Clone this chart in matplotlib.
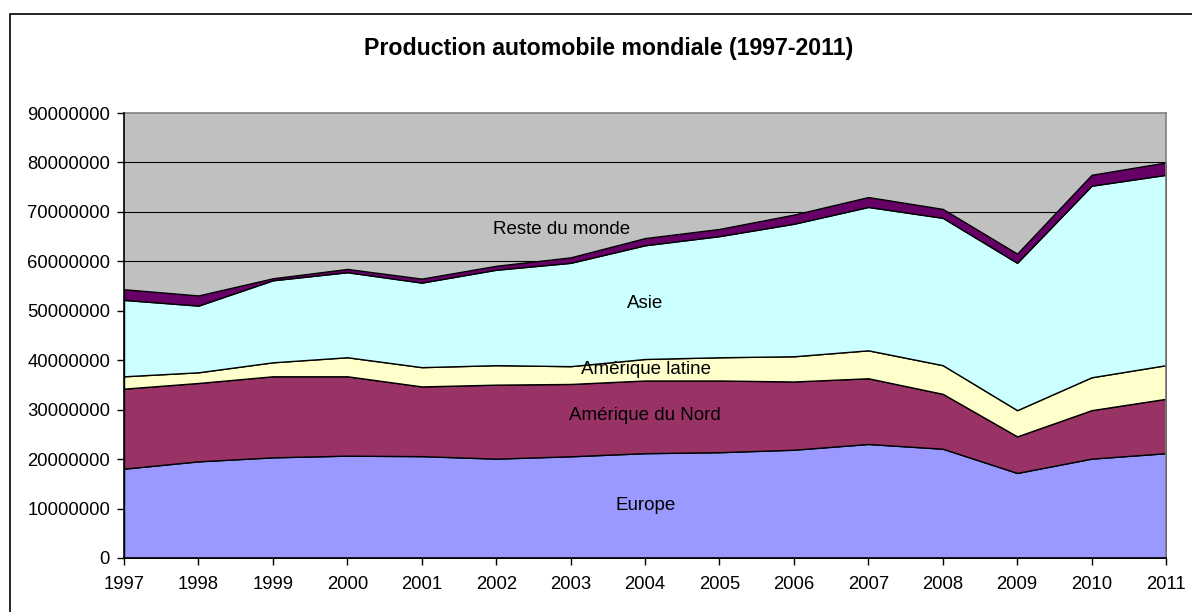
import numpy as np
import matplotlib
matplotlib.use("Agg")
import matplotlib.pyplot as plt
from matplotlib.patches import Rectangle

plt.rcParams['font.family'] = ['Liberation Sans', 'DejaVu Sans']

# ─── DATA (vehicles produced) ────────────────────────────────────────────────
years = list(range(1997, 2012))

europe      = [18070000, 19550000, 20360000, 20700000, 20600000, 20100000, 20570000, 21200000,
               21400000, 21900000, 23060000, 22100000, 17200000, 20100000, 21200000]
amerique_n  = [16180000, 15850000, 16390000, 16050000, 14100000, 14960000, 14630000, 14700000,
               14500000, 13800000, 13290000, 11100000, 7400000, 9800000, 11000000]
amerique_l  = [2500000, 2160000, 2830000, 3850000, 3900000, 3940000, 3600000, 4350000,
               4700000, 5100000, 5650000, 5800000, 5300000, 6650000, 6800000]
asie        = [15450000, 13490000, 16590000, 17200000, 17100000, 19300000, 20900000, 23000000,
               24500000, 26800000, 29000000, 29800000, 29800000, 38750000, 38500000]
reste       = [2150000, 2050000, 400000, 660000, 800000, 800000, 1100000, 1450000,
               1450000, 1850000, 2000000, 1800000, 1860000, 2200000, 2500000]

series_labels = ['Europe', 'Amérique du Nord', 'Amérique latine', 'Asie', 'Reste du monde']
colors = ['#9999FF', '#993366', '#FFFFCC', '#CCFFFF', '#660066']
# ──────────────────────────────────────────────────────────────────────────────

fig = plt.figure(figsize=(11.92, 6.12), dpi=100)

# outer chart border (cropped at right/bottom like the reference)
fig.patches.append(Rectangle((10 / 1192, -0.1), 1.2, 1 - 14 / 612 + 0.1,
                             transform=fig.transFigure, fill=False,
                             edgecolor='black', lw=1.2))

ax = fig.add_axes([124 / 1192, 1 - 558 / 612, (1166 - 124) / 1192, (558 - 113) / 612])
ax.set_facecolor('#C0C0C0')

ax.stackplot(years, europe, amerique_n, amerique_l, asie, reste,
             colors=colors, edgecolor='black', linewidth=1.0, zorder=2)

ax.set_xlim(1997, 2011)
ax.set_ylim(0, 90000000)
ax.set_xticks(years)
ax.set_yticks(np.arange(0, 90000001, 10000000))
ax.yaxis.set_major_formatter(matplotlib.ticker.FuncFormatter(lambda v, p: f"{int(v)}"))
ax.tick_params(axis='both', direction='out', length=5, width=1, labelsize=13.3,
               colors='black')
ax.tick_params(axis='x', pad=8)
ax.tick_params(axis='y', pad=5)

for yv in range(10000000, 90000000, 10000000):
    ax.axhline(yv, color='black', lw=0.8, zorder=1)

for s in ['top', 'right']:
    ax.spines[s].set_color('#808080')
    ax.spines[s].set_linewidth(1.2)
for s in ['left', 'bottom']:
    ax.spines[s].set_color('black')
    ax.spines[s].set_linewidth(1.2)
    ax.spines[s].set_zorder(5)

# in-chart series labels
fig_px = lambda x, y: (x / 1192, 1 - y / 612)
label_pos = {'Reste du monde': (562, 229), 'Asie': (645, 303), 'Amérique latine': (646, 370),
             'Amérique du Nord': (645, 415), 'Europe': (646, 505)}
for name in series_labels:
    fx, fy = fig_px(*label_pos[name])
    fig.text(fx, fy, name, ha='center', va='center', fontsize=13.5, color='black', zorder=10)

fig.text(609 / 1192, 1 - 49 / 612, 'Production automobile mondiale (1997-2011)',
         ha='center', va='center', fontsize=16.7, fontweight='bold')

fig.savefig('out.png', dpi=100)
